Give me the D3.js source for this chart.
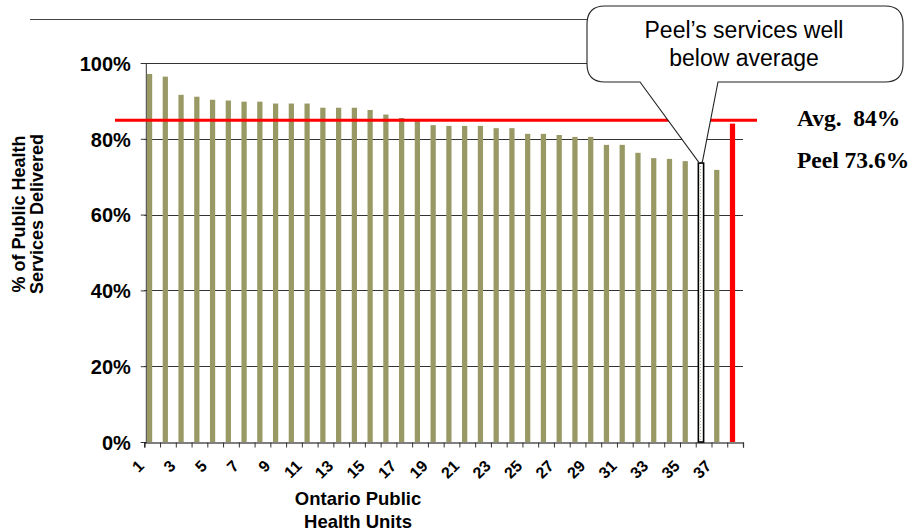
<!DOCTYPE html>
<html><head><meta charset="utf-8">
<script src="https://cdn.jsdelivr.net/npm/d3@7"></script>
<style>
html,body{margin:0;padding:0;background:#fff;}
svg{display:block;}
</style></head>
<body>
<svg id="chart" width="913" height="531"></svg>
<script>
// ---- data ----
const units = d3.range(1, 39);               // 37 health units + average bar
const values = [97.1, 96.4, 91.6, 91.1, 90.3, 90.1, 89.8, 89.8, 89.3, 89.3,
                89.3, 88.2, 88.2, 88.2, 87.6, 86.4, 85.5, 84.8, 83.6, 83.4,
                83.4, 83.4, 82.8, 82.8, 81.3, 81.3, 81.0, 80.5, 80.5, 78.4,
                78.4, 76.3, 74.9, 74.7, 74.1, 73.6, 71.8, 84.0];
const peelUnit = 36;
const avgUnit = 38;
const avgLineValue = 84.9;
const yTicks = [0, 20, 40, 60, 80, 100];
const xTickLabels = d3.range(1, 38, 2);
const yTitle = ["% of Public Health", "Services Delivered"];
const xTitle = ["Ontario Public", "Health Units"];
const calloutText = ["Peel\u2019s services well", "below average"];
const sideLabels = ["Avg.  84%", "Peel 73.6%"];

// ---- layout ----
const svg = d3.select("#chart");
const pLeft = 144.3, pRight = 743, pTop = 63, pBottom = 442;
const x = d3.scaleBand().domain(units).range([pLeft, pRight]).paddingInner(0).paddingOuter(0);
const xLin = d3.scaleLinear().domain([0, units.length]).range([pLeft, pRight]);
const y = d3.scaleLinear().domain([0, 100]).range([pBottom, pTop]);
const bw = x.bandwidth();
const sans = "'Liberation Sans', Arial, sans-serif";
const serif = "'Liberation Serif', 'Times New Roman', serif";

// pattern for Peel bar
const defs = svg.append("defs");
const pat = defs.append("pattern").attr("id", "dots").attr("patternUnits", "userSpaceOnUse")
  .attr("width", 3).attr("height", 3);
pat.append("rect").attr("width", 3).attr("height", 3).attr("fill", "#fff");
pat.append("rect").attr("x", 1).attr("y", 1).attr("width", 1).attr("height", 1).attr("fill", "#b5b38a");

// top decorative line
svg.append("line").attr("x1", 30).attr("x2", 600).attr("y1", 19.5).attr("y2", 19.5)
  .attr("stroke", "#444").attr("stroke-width", 1.2);

// gridlines
svg.append("g").selectAll("line").data(yTicks.filter(d => d > 0)).join("line")
  .attr("x1", pLeft).attr("x2", pRight)
  .attr("y1", d => Math.round(y(d)) + 0.5).attr("y2", d => Math.round(y(d)) + 0.5)
  .attr("stroke", "#333").attr("stroke-width", 1);

// y axis
const yAxis = svg.append("g").attr("transform", `translate(${pLeft + 1.5},0)`)
  .call(d3.axisLeft(y).tickValues(yTicks).tickSize(5).tickFormat(d => d + "%"));
yAxis.select(".domain").attr("stroke", "#333");
yAxis.selectAll(".tick line").attr("stroke", "#333");
yAxis.selectAll("text").attr("font-family", sans).attr("font-weight", "bold")
  .attr("font-size", 20).attr("fill", "#000").attr("x", -15).attr("dy", "0.36em");

// bars
svg.append("g").selectAll("rect").data(units).join("rect")
  .attr("x", d => x(d) + bw / 6)
  .attr("width", bw / 3)
  .attr("y", (d, i) => y(values[i]))
  .attr("height", (d, i) => y(0) - y(values[i]))
  .attr("fill", d => d === avgUnit ? "#ff0000" : d === peelUnit ? "url(#dots)" : "#999966")
  .attr("stroke", d => d === peelUnit ? "#000" : "none")
  .attr("stroke-width", d => d === peelUnit ? 1.6 : 0);

// x axis
const xAxis = svg.append("g").attr("transform", `translate(0,${pBottom + 0.5})`)
  .call(d3.axisBottom(xLin).tickValues(d3.range(units.length + 1)).tickSize(5).tickFormat(""));
xAxis.select(".domain").attr("stroke", "#000").attr("stroke-width", 1.2);
xAxis.selectAll(".tick line").attr("stroke", "#333");

// x tick labels
svg.append("g").selectAll("text").data(xTickLabels).join("text")
  .attr("transform", d => `translate(${x(d) + bw / 2 - 11},${463}) rotate(-45)`)
  .attr("text-anchor", "end").attr("dy", "0.35em")
  .attr("font-family", sans).attr("font-weight", "bold").attr("font-size", 16)
  .text(d => d);

// average line
svg.append("line").attr("x1", 115).attr("x2", 757)
  .attr("y1", y(avgLineValue)).attr("y2", y(avgLineValue))
  .attr("stroke", "#ff0000").attr("stroke-width", 3.2);

// y title
const yt = svg.append("text").attr("transform", "translate(0,214) rotate(-90)")
  .attr("text-anchor", "middle").attr("font-family", sans).attr("font-weight", "bold").attr("font-size", 18);
yTitle.forEach((t, i) => yt.append("tspan").attr("x", 0).attr("y", 25 + i * 17.5).text(t));

// x title
const xt = svg.append("text").attr("text-anchor", "middle").attr("font-family", sans)
  .attr("font-weight", "bold").attr("font-size", 18.5);
xTitle.forEach((t, i) => xt.append("tspan").attr("x", 358).attr("y", 505 + i * 23).text(t));

// callout
const bx0 = 587, by0 = 6, bx1 = 903, by1 = 82, r = 18;
const tipX = x(peelUnit) + bw / 6 + 2, tipY = y(values[peelUnit - 1]) - 1;
const p = d3.path();
p.moveTo(bx0 + r, by0);
p.lineTo(bx1 - r, by0);
p.quadraticCurveTo(bx1, by0, bx1, by0 + r);
p.lineTo(bx1, by1 - r);
p.quadraticCurveTo(bx1, by1, bx1 - r, by1);
p.lineTo(718, by1);
p.lineTo(tipX + 2, tipY);
p.lineTo(tipX - 1, tipY + 1);
p.lineTo(640, by1);
p.lineTo(bx0 + r, by1);
p.quadraticCurveTo(bx0, by1, bx0, by1 - r);
p.lineTo(bx0, by0 + r);
p.quadraticCurveTo(bx0, by0, bx0 + r, by0);
p.closePath();
svg.append("path").attr("d", p.toString()).attr("fill", "#fff")
  .attr("stroke", "#222").attr("stroke-width", 1.1);

const ct = svg.append("text").attr("text-anchor", "middle").attr("font-family", sans)
  .attr("font-size", 23).attr("fill", "#000");
calloutText.forEach((t, i) => ct.append("tspan").attr("x", 744).attr("y", 38 + i * 27.5).text(t));

// side labels
svg.append("g").selectAll("text").data(sideLabels).join("text")
  .attr("x", 797).attr("y", (d, i) => 126 + i * 42)
  .attr("font-family", serif).attr("font-weight", "bold").attr("font-size", 23.5)
  .style("white-space", "pre")
  .text(d => d);
</script>
</body></html>
